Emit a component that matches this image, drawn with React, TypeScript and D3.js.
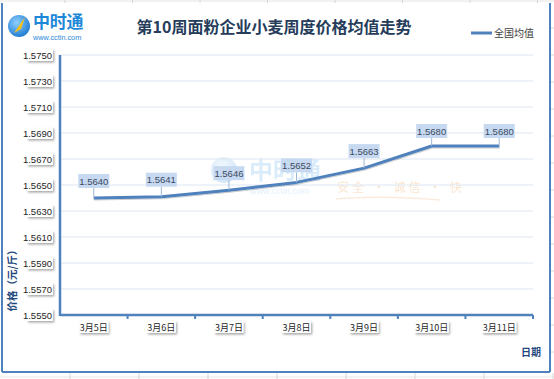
import React from "react";
import * as d3 from "d3";

const categories = ["3月5日", "3月6日", "3月7日", "3月8日", "3月9日", "3月10日", "3月11日"];
const values = [1.564, 1.5641, 1.5646, 1.5652, 1.5663, 1.568, 1.568];
const yTicks = [1.555, 1.557, 1.559, 1.561, 1.563, 1.565, 1.567, 1.569, 1.571, 1.573, 1.575];
const title = "第10周面粉企业小麦周度价格均值走势";
const seriesName = "全国均值";

const W = 554, H = 379;
const m = { left: 60, right: 533, top: 55, bottom: 315 };
const BLUE = "#4f81bd";
const CJK = "'Noto Sans CJK SC', 'Noto Sans', sans-serif";
const LAT = "'Liberation Sans', 'DejaVu Sans', sans-serif";

export default function App() {
  const x = d3.scaleBand<string>().domain(categories).range([m.left, m.right]).padding(0);
  const y = d3.scaleLinear().domain([1.555, 1.575]).range([m.bottom, m.top]);
  const line = d3
    .line<number>()
    .x((_, i) => (x(categories[i]) as number) + x.bandwidth() / 2)
    .y((d) => y(d));
  const bw = x.bandwidth();
  const gridXs = d3.range(0, 9).map((i) => 65 + i * 67.5);
  const gridXsB = d3.range(0, 8).map((i) => 70 + i * 69);

  return (
    <svg width={W} height={H} style={{ position: "absolute", left: 0, top: 0, background: "#fff" }}>
      <defs>
        <filter id="sh" x="-20%" y="-20%" width="150%" height="170%">
          <feDropShadow dx="1.2" dy="1.5" stdDeviation="0.8" floodColor="#000" floodOpacity="0.35" />
        </filter>
        <filter id="lsh" x="-5%" y="-20%" width="110%" height="150%">
          <feDropShadow dx="0.5" dy="1" stdDeviation="0.6" floodColor="#000" floodOpacity="0.2" />
        </filter>
        <radialGradient id="lg" cx="40%" cy="35%" r="70%">
          <stop offset="0%" stopColor="#8fd0ff" />
          <stop offset="100%" stopColor="#1a78d0" />
        </radialGradient>
        <radialGradient id="wg" cx="40%" cy="35%" r="70%">
          <stop offset="0%" stopColor="#e3f1fd" />
          <stop offset="100%" stopColor="#a8d2f3" />
        </radialGradient>
      </defs>
      {/* spreadsheet gridlines outside */}
      <line x1={0} x2={W} y1={1} y2={1} stroke="#e3e3e3" />
      {gridXs.map((gx, i) => (
        <line key={"t" + i} x1={gx} x2={gx} y1={0} y2={3} stroke="#d8d8d8" />
      ))}
      <line x1={0} x2={W} y1={377} y2={377} stroke="#e6e6e6" />
      {gridXsB.map((gx, i) => (
        <line key={"b" + i} x1={gx} x2={gx} y1={373} y2={379} stroke="#d8d8d8" />
      ))}
      {[28, 55, 82, 109, 136, 163, 190, 217, 244, 271, 298, 325, 352].map((gy, i) => (
        <line key={"r" + i} x1={551} x2={554} y1={gy} y2={gy} stroke="#d8d8d8" />
      ))}
      {/* frame */}
      <line x1={2} x2={2} y1={3} y2={372} stroke={BLUE} strokeWidth={2} />
      <line x1={550} x2={550} y1={3} y2={372} stroke={BLUE} strokeWidth={2} />
      <line x1={2} x2={550} y1={372} y2={372} stroke={BLUE} strokeWidth={2} />

      {/* logo */}
      <circle cx={19} cy={26} r={11} fill="url(#lg)" />
      <path d="M14,33 L25,17 L21,29 Z" fill="#f6c21a" />
      <text x={33} y={28} fontFamily={CJK} fontWeight="bold" fontSize={17} fill="#1e88d8" letterSpacing={-0.3}>
        中时通
      </text>
      <text x={33} y={40} fontFamily={LAT} fontSize={7.3} fill="#2a8ad8">
        www.cctin.com
      </text>

      {/* watermark */}
      <g opacity={0.5}>
        <circle cx={224} cy={170} r={13} fill="url(#wg)" />
        <text x={249} y={179} fontFamily={CJK} fontWeight="bold" fontSize={24} fill="#b7daf6">
          中时通
        </text>
        <text x={250} y={194} fontFamily={LAT} fontSize={9} fill="#c4e0f6">
          www.cctin.com
        </text>
        <text x={337} y={192} fontFamily={CJK} fontSize={12} fill="#f5c9a0" letterSpacing={3}>
          安全 · 诚信 · 快
        </text>
        <path d="M336,199 Q380,195 440,200" stroke="#f7d9bc" strokeWidth={1.5} fill="none" />
      </g>

      {/* title */}
      <text x={274} y={33} textAnchor="middle" fontFamily={CJK} fontWeight="bold" fontSize={16} fill="#253c5a">
        {title}
      </text>
      {/* legend */}
      <line x1={471} x2={492} y1={33} y2={33} stroke={BLUE} strokeWidth={3} />
      <text x={494} y={37} fontFamily={CJK} fontSize={10} fill="#404040">
        {seriesName}
      </text>

      {/* gridlines */}
      {yTicks.map((t) => (
        <line key={t} x1={m.left} x2={m.right} y1={y(t)} y2={y(t)} stroke="#dce6f2" strokeWidth={1} />
      ))}
      {/* y tick labels */}
      {yTicks.map((t) => (
        <g key={"yl" + t}>
          <rect x={27} y={y(t) - 6} width={26} height={12} fill="#fff" filter="url(#sh)" />
          <text x={52} y={y(t) + 3.5} textAnchor="end" fontFamily={LAT} fontSize={9.5} fill="#262626">
            {t.toFixed(4)}
          </text>
        </g>
      ))}
      {/* axes */}
      <line x1={m.left} x2={m.left} y1={m.top} y2={m.bottom + 1} stroke={BLUE} strokeWidth={2.5} />
      <line x1={m.left} x2={m.right} y1={m.bottom} y2={m.bottom} stroke={BLUE} strokeWidth={2.5} />
      {categories.map((c) => (
        <line key={"tk" + c} x1={(x(c) as number) + bw} x2={(x(c) as number) + bw} y1={m.bottom} y2={m.bottom + 4} stroke={BLUE} strokeWidth={2} />
      ))}
      {/* x labels */}
      {categories.map((c) => {
        const cx = (x(c) as number) + bw / 2;
        const w = c.length > 4 ? 34 : 29;
        return (
          <g key={"xl" + c}>
            <rect x={cx - w / 2} y={321} width={w} height={12} fill="#fff" filter="url(#sh)" />
            <text x={cx} y={331} textAnchor="middle" fontFamily={CJK} fontSize={9} fill="#262626">
              {c}
            </text>
          </g>
        );
      })}
      <text x={531} y={356} textAnchor="middle" fontFamily={CJK} fontWeight="bold" fontSize={10} fill="#1f497d">
        日期
      </text>
      <text
        transform={`translate(16,${278}) rotate(-90)`}
        textAnchor="middle"
        fontFamily={CJK}
        fontWeight="bold"
        fontSize={10.5}
        fill="#1f497d"
      >
        价格（元/斤）
      </text>

      {/* series line */}
      <path d={line(values) || ""} fill="none" stroke={BLUE} strokeWidth={3} strokeLinejoin="round" filter="url(#lsh)" />

      {/* data labels */}
      {values.map((v, i) => {
        const cx = (x(categories[i]) as number) + bw / 2;
        const cy = y(v);
        const bh = 14;
        const bwid = 31;
        const by = cy - 8 - bh - (i >= 5 ? 0 : 2);
        return (
          <g key={"dl" + i}>
            <line x1={cx} x2={cx} y1={by + bh} y2={cy} stroke="#9bb7d9" strokeWidth={1} />
            <rect x={cx - bwid / 2} y={by} width={bwid} height={bh} fill="#c6d9f1" />
            <text x={cx} y={by + 10.5} textAnchor="middle" fontFamily={LAT} fontSize={9.5} fill="#3b4a60">
              {v.toFixed(4)}
            </text>
          </g>
        );
      })}
    </svg>
  );
}
